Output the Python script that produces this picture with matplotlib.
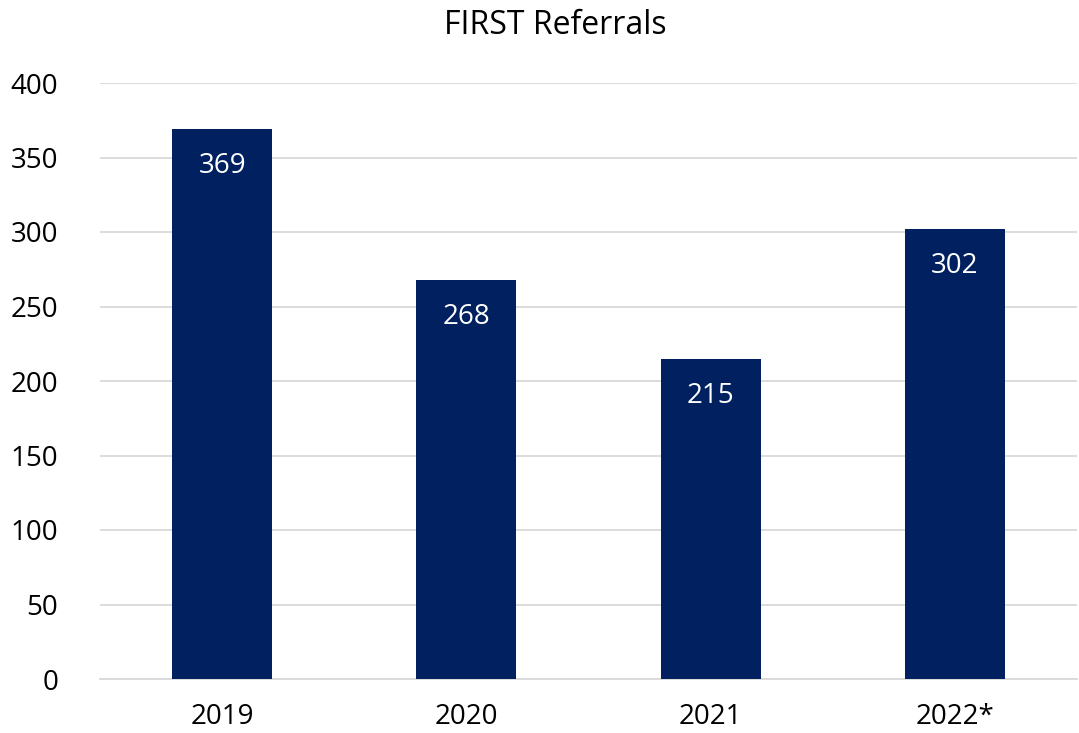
import matplotlib
matplotlib.use('Agg')
import matplotlib.pyplot as plt

years = ['2019', '2020', '2021', '2022*']
referrals = [369, 268, 215, 302]

plt.rcParams['font.family'] = ['Open Sans', 'DejaVu Sans']

fig = plt.figure(figsize=(10.79, 7.33), dpi=100)
ax = fig.add_axes([100 / 1079, 54 / 733, 977 / 1079, 596 / 733])

x = range(len(years))
bars = ax.bar(x, referrals, width=0.41, color='#002060', zorder=3)

for b, v in zip(bars, referrals):
    ax.text(b.get_x() + b.get_width() / 2, v - 29.5, str(v), ha='center', va='baseline',
            color='white', fontsize=20)

ax.set_xlim(-0.5, len(years) - 0.5)
ax.set_ylim(0, 400)
ax.set_yticks(range(0, 401, 50))
ax.set_xticks(list(x))
ax.set_xticklabels(years)
ax.tick_params(axis='both', length=0, labelsize=20, colors='black')
ax.tick_params(axis='y', pad=30)
ax.tick_params(axis='x', pad=17)
ax.grid(axis='y', color='#D9D9D9', linewidth=1.3, zorder=0)
for s in ['top', 'right', 'left']:
    ax.spines[s].set_visible(False)
ax.spines['bottom'].set_color('#D9D9D9')
ax.spines['bottom'].set_linewidth(1.3)

fig.text(555 / 1079, 1 - 26 / 733, 'FIRST Referrals', ha='center', va='center', fontsize=23)

fig.savefig('out.png', dpi=100)
